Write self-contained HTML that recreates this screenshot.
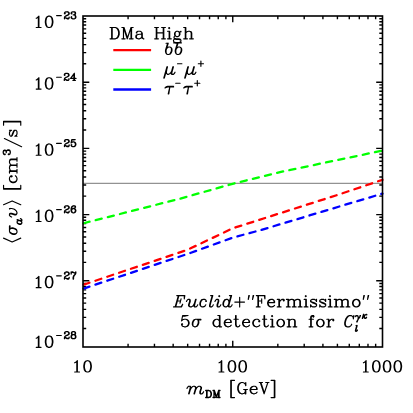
<!DOCTYPE html><html><head><meta charset="utf-8"><title>plot</title><style>html,body{margin:0;padding:0;background:#fff;}svg{display:block;}</style></head><body>
<svg width="413" height="413" viewBox="0 0 413 413">
<rect width="413" height="413" fill="#fff"/>
<line x1="83.0" y1="183.30" x2="382.5" y2="183.30" stroke="#777" stroke-width="1"/>
<path d="M83.0 283.51h3.2M382.5 283.51h-3.2M83.0 286.51h3.2M382.5 286.51h-3.2M83.0 289.85h3.2M382.5 289.85h-3.2M83.0 293.63h3.2M382.5 293.63h-3.2M83.0 297.99h3.2M382.5 297.99h-3.2M83.0 303.13h3.2M382.5 303.13h-3.2M83.0 309.39h3.2M382.5 309.39h-3.2M83.0 317.40h3.2M382.5 317.40h-3.2M83.0 328.55h3.2M382.5 328.55h-3.2M83.0 280.80h6.3M382.5 280.80h-6.3M83.0 217.31h3.2M382.5 217.31h-3.2M83.0 220.31h3.2M382.5 220.31h-3.2M83.0 223.65h3.2M382.5 223.65h-3.2M83.0 227.43h3.2M382.5 227.43h-3.2M83.0 231.79h3.2M382.5 231.79h-3.2M83.0 236.93h3.2M382.5 236.93h-3.2M83.0 243.19h3.2M382.5 243.19h-3.2M83.0 251.20h3.2M382.5 251.20h-3.2M83.0 262.35h3.2M382.5 262.35h-3.2M83.0 214.60h6.3M382.5 214.60h-6.3M83.0 151.11h3.2M382.5 151.11h-3.2M83.0 154.11h3.2M382.5 154.11h-3.2M83.0 157.45h3.2M382.5 157.45h-3.2M83.0 161.23h3.2M382.5 161.23h-3.2M83.0 165.59h3.2M382.5 165.59h-3.2M83.0 170.73h3.2M382.5 170.73h-3.2M83.0 176.99h3.2M382.5 176.99h-3.2M83.0 185.00h3.2M382.5 185.00h-3.2M83.0 196.15h3.2M382.5 196.15h-3.2M83.0 148.40h6.3M382.5 148.40h-6.3M83.0 84.91h3.2M382.5 84.91h-3.2M83.0 87.91h3.2M382.5 87.91h-3.2M83.0 91.25h3.2M382.5 91.25h-3.2M83.0 95.03h3.2M382.5 95.03h-3.2M83.0 99.39h3.2M382.5 99.39h-3.2M83.0 104.53h3.2M382.5 104.53h-3.2M83.0 110.79h3.2M382.5 110.79h-3.2M83.0 118.80h3.2M382.5 118.80h-3.2M83.0 129.95h3.2M382.5 129.95h-3.2M83.0 82.20h6.3M382.5 82.20h-6.3M83.0 18.71h3.2M382.5 18.71h-3.2M83.0 21.71h3.2M382.5 21.71h-3.2M83.0 25.05h3.2M382.5 25.05h-3.2M83.0 28.83h3.2M382.5 28.83h-3.2M83.0 33.19h3.2M382.5 33.19h-3.2M83.0 38.33h3.2M382.5 38.33h-3.2M83.0 44.59h3.2M382.5 44.59h-3.2M83.0 52.60h3.2M382.5 52.60h-3.2M83.0 63.75h3.2M382.5 63.75h-3.2M128.08 347.0v-3.2M128.08 16.0v3.2M154.45 347.0v-3.2M154.45 16.0v3.2M173.16 347.0v-3.2M173.16 16.0v3.2M187.67 347.0v-3.2M187.67 16.0v3.2M199.53 347.0v-3.2M199.53 16.0v3.2M209.55 347.0v-3.2M209.55 16.0v3.2M218.24 347.0v-3.2M218.24 16.0v3.2M225.90 347.0v-3.2M225.90 16.0v3.2M232.75 347.0v-6.3M232.75 16.0v6.3M277.83 347.0v-3.2M277.83 16.0v3.2M304.20 347.0v-3.2M304.20 16.0v3.2M322.91 347.0v-3.2M322.91 16.0v3.2M337.42 347.0v-3.2M337.42 16.0v3.2M349.28 347.0v-3.2M349.28 16.0v3.2M359.30 347.0v-3.2M359.30 16.0v3.2M367.99 347.0v-3.2M367.99 16.0v3.2M375.65 347.0v-3.2M375.65 16.0v3.2" stroke="#000" stroke-width="1.4" fill="none"/>
<path d="M83.00 223.40 L180.00 198.70 L234.50 183.30 L280.00 172.10 L382.50 150.60" stroke="#00ff00" stroke-width="2.3" fill="none" stroke-dasharray="6.2 6.3" stroke-dashoffset="-0.6" stroke-linejoin="round" stroke-linecap="round"/>
<path d="M83.00 284.90 L187.70 249.70 L232.75 228.30 L337.40 195.00 L382.50 179.80" stroke="#ff0000" stroke-width="2.3" fill="none" stroke-dasharray="6.2 6.3" stroke-dashoffset="-0.6" stroke-linejoin="round" stroke-linecap="round"/>
<path d="M83.00 288.80 L187.70 253.90 L232.75 237.60 L260.00 230.30 L355.00 201.80 L382.50 193.60" stroke="#0000ff" stroke-width="2.3" fill="none" stroke-dasharray="6.2 6.3" stroke-dashoffset="-0.6" stroke-linejoin="round" stroke-linecap="round"/>
<rect x="83.0" y="16.0" width="299.5" height="331.0" fill="none" stroke="#000" stroke-width="1.6"/>
<line x1="113.3" y1="50.2" x2="151.1" y2="50.2" stroke="#ff0000" stroke-width="2.3"/>
<line x1="113.3" y1="69.9" x2="151.1" y2="69.9" stroke="#00ff00" stroke-width="2.3"/>
<line x1="113.3" y1="89.5" x2="151.1" y2="89.5" stroke="#0000ff" stroke-width="2.3"/>
<path d="M36.22 18.31L37.29 17.77L38.91 16.16L38.91 27.45M38.37 16.70L38.37 27.45M36.22 27.45L41.06 27.45M48.58 16.16L46.97 16.70L45.89 18.31L45.36 21.00L45.36 22.61L45.89 25.30L46.97 26.91L48.58 27.45L49.66 27.45L51.27 26.91L52.34 25.30L52.88 22.61L52.88 21.00L52.34 18.31L51.27 16.70L49.66 16.16L48.58 16.16M48.58 16.16L47.51 16.70L46.97 17.24L46.43 18.31L45.89 21.00L45.89 22.61L46.43 25.30L46.97 26.38L47.51 26.91L48.58 27.45M49.66 27.45L50.73 26.91L51.27 26.38L51.81 25.30L52.34 22.61L52.34 21.00L51.81 18.31L51.27 17.24L50.73 16.70L49.66 16.16M56.6 15.60H61.3M36.22 79.91L37.29 79.38L38.91 77.76L38.91 89.05M38.37 78.30L38.37 89.05M36.22 89.05L41.06 89.05M48.58 77.76L46.97 78.30L45.89 79.91L45.36 82.60L45.36 84.21L45.89 86.90L46.97 88.51L48.58 89.05L49.66 89.05L51.27 88.51L52.34 86.90L52.88 84.21L52.88 82.60L52.34 79.91L51.27 78.30L49.66 77.76L48.58 77.76M48.58 77.76L47.51 78.30L46.97 78.84L46.43 79.91L45.89 82.60L45.89 84.21L46.43 86.90L46.97 87.97L47.51 88.51L48.58 89.05M49.66 89.05L50.73 88.51L51.27 87.97L51.81 86.90L52.34 84.21L52.34 82.60L51.81 79.91L51.27 78.84L50.73 78.30L49.66 77.76M56.6 77.20H61.3M36.22 146.11L37.29 145.57L38.91 143.96L38.91 155.25M38.37 144.50L38.37 155.25M36.22 155.25L41.06 155.25M48.58 143.96L46.97 144.50L45.89 146.11L45.36 148.80L45.36 150.41L45.89 153.10L46.97 154.71L48.58 155.25L49.66 155.25L51.27 154.71L52.34 153.10L52.88 150.41L52.88 148.80L52.34 146.11L51.27 144.50L49.66 143.96L48.58 143.96M48.58 143.96L47.51 144.50L46.97 145.04L46.43 146.11L45.89 148.80L45.89 150.41L46.43 153.10L46.97 154.18L47.51 154.71L48.58 155.25M49.66 155.25L50.73 154.71L51.27 154.18L51.81 153.10L52.34 150.41L52.34 148.80L51.81 146.11L51.27 145.04L50.73 144.50L49.66 143.96M56.6 143.40H61.3M36.22 212.31L37.29 211.77L38.91 210.16L38.91 221.45M38.37 210.70L38.37 221.45M36.22 221.45L41.06 221.45M48.58 210.16L46.97 210.70L45.89 212.31L45.36 215.00L45.36 216.61L45.89 219.30L46.97 220.91L48.58 221.45L49.66 221.45L51.27 220.91L52.34 219.30L52.88 216.61L52.88 215.00L52.34 212.31L51.27 210.70L49.66 210.16L48.58 210.16M48.58 210.16L47.51 210.70L46.97 211.24L46.43 212.31L45.89 215.00L45.89 216.61L46.43 219.30L46.97 220.38L47.51 220.91L48.58 221.45M49.66 221.45L50.73 220.91L51.27 220.38L51.81 219.30L52.34 216.61L52.34 215.00L51.81 212.31L51.27 211.24L50.73 210.70L49.66 210.16M56.6 209.60H61.3M36.22 278.51L37.29 277.97L38.91 276.36L38.91 287.65M38.37 276.90L38.37 287.65M36.22 287.65L41.06 287.65M48.58 276.36L46.97 276.90L45.89 278.51L45.36 281.20L45.36 282.81L45.89 285.50L46.97 287.11L48.58 287.65L49.66 287.65L51.27 287.11L52.34 285.50L52.88 282.81L52.88 281.20L52.34 278.51L51.27 276.90L49.66 276.36L48.58 276.36M48.58 276.36L47.51 276.90L46.97 277.44L46.43 278.51L45.89 281.20L45.89 282.81L46.43 285.50L46.97 286.57L47.51 287.11L48.58 287.65M49.66 287.65L50.73 287.11L51.27 286.57L51.81 285.50L52.34 282.81L52.34 281.20L51.81 278.51L51.27 277.44L50.73 276.90L49.66 276.36M56.6 275.80H61.3M36.22 338.21L37.29 337.67L38.91 336.06L38.91 347.35M38.37 336.60L38.37 347.35M36.22 347.35L41.06 347.35M48.58 336.06L46.97 336.60L45.89 338.21L45.36 340.90L45.36 342.51L45.89 345.20L46.97 346.81L48.58 347.35L49.66 347.35L51.27 346.81L52.34 345.20L52.88 342.51L52.88 340.90L52.34 338.21L51.27 336.60L49.66 336.06L48.58 336.06M48.58 336.06L47.51 336.60L46.97 337.14L46.43 338.21L45.89 340.90L45.89 342.51L46.43 345.20L46.97 346.27L47.51 346.81L48.58 347.35M49.66 347.35L50.73 346.81L51.27 346.27L51.81 345.20L52.34 342.51L52.34 340.90L51.81 338.21L51.27 337.14L50.73 336.60L49.66 336.06M56.6 335.50H61.3M74.67 362.86L75.74 362.32L77.36 360.71L77.36 372.00M76.82 361.25L76.82 372.00M74.67 372.00L79.51 372.00M87.03 360.71L85.42 361.25L84.34 362.86L83.81 365.55L83.81 367.16L84.34 369.85L85.42 371.46L87.03 372.00L88.11 372.00L89.72 371.46L90.79 369.85L91.33 367.16L91.33 365.55L90.79 362.86L89.72 361.25L88.11 360.71L87.03 360.71M87.03 360.71L85.96 361.25L85.42 361.79L84.88 362.86L84.34 365.55L84.34 367.16L84.88 369.85L85.42 370.93L85.96 371.46L87.03 372.00M88.11 372.00L89.18 371.46L89.72 370.93L90.26 369.85L90.79 367.16L90.79 365.55L90.26 362.86L89.72 361.79L89.18 361.25L88.11 360.71M219.04 362.86L220.12 362.32L221.73 360.71L221.73 372.00M221.19 361.25L221.19 372.00M219.04 372.00L223.88 372.00M231.41 360.71L229.79 361.25L228.72 362.86L228.18 365.55L228.18 367.16L228.72 369.85L229.79 371.46L231.41 372.00L232.48 372.00L234.09 371.46L235.17 369.85L235.71 367.16L235.71 365.55L235.17 362.86L234.09 361.25L232.48 360.71L231.41 360.71M231.41 360.71L230.33 361.25L229.79 361.79L229.26 362.86L228.72 365.55L228.72 367.16L229.26 369.85L229.79 370.93L230.33 371.46L231.41 372.00M232.48 372.00L233.56 371.46L234.09 370.93L234.63 369.85L235.17 367.16L235.17 365.55L234.63 362.86L234.09 361.79L233.56 361.25L232.48 360.71M242.16 360.71L240.54 361.25L239.47 362.86L238.93 365.55L238.93 367.16L239.47 369.85L240.54 371.46L242.16 372.00L243.23 372.00L244.84 371.46L245.92 369.85L246.46 367.16L246.46 365.55L245.92 362.86L244.84 361.25L243.23 360.71L242.16 360.71M242.16 360.71L241.08 361.25L240.54 361.79L240.01 362.86L239.47 365.55L239.47 367.16L240.01 369.85L240.54 370.93L241.08 371.46L242.16 372.00M243.23 372.00L244.31 371.46L244.84 370.93L245.38 369.85L245.92 367.16L245.92 365.55L245.38 362.86L244.84 361.79L244.31 361.25L243.23 360.71M363.42 362.86L364.49 362.32L366.11 360.71L366.11 372.00M365.57 361.25L365.57 372.00M363.42 372.00L368.26 372.00M375.78 360.71L374.17 361.25L373.09 362.86L372.56 365.55L372.56 367.16L373.09 369.85L374.17 371.46L375.78 372.00L376.86 372.00L378.47 371.46L379.54 369.85L380.08 367.16L380.08 365.55L379.54 362.86L378.47 361.25L376.86 360.71L375.78 360.71M375.78 360.71L374.71 361.25L374.17 361.79L373.63 362.86L373.09 365.55L373.09 367.16L373.63 369.85L374.17 370.93L374.71 371.46L375.78 372.00M376.86 372.00L377.93 371.46L378.47 370.93L379.01 369.85L379.54 367.16L379.54 365.55L379.01 362.86L378.47 361.79L377.93 361.25L376.86 360.71M386.53 360.71L384.92 361.25L383.84 362.86L383.31 365.55L383.31 367.16L383.84 369.85L384.92 371.46L386.53 372.00L387.61 372.00L389.22 371.46L390.29 369.85L390.83 367.16L390.83 365.55L390.29 362.86L389.22 361.25L387.61 360.71L386.53 360.71M386.53 360.71L385.46 361.25L384.92 361.79L384.38 362.86L383.84 365.55L383.84 367.16L384.38 369.85L384.92 370.93L385.46 371.46L386.53 372.00M387.61 372.00L388.68 371.46L389.22 370.93L389.76 369.85L390.29 367.16L390.29 365.55L389.76 362.86L389.22 361.79L388.68 361.25L387.61 360.71M397.28 360.71L395.67 361.25L394.59 362.86L394.06 365.55L394.06 367.16L394.59 369.85L395.67 371.46L397.28 372.00L398.36 372.00L399.97 371.46L401.04 369.85L401.58 367.16L401.58 365.55L401.04 362.86L399.97 361.25L398.36 360.71L397.28 360.71M397.28 360.71L396.21 361.25L395.67 361.79L395.13 362.86L394.59 365.55L394.59 367.16L395.13 369.85L395.67 370.93L396.21 371.46L397.28 372.00M398.36 372.00L399.43 371.46L399.97 370.93L400.51 369.85L401.04 367.16L401.04 365.55L400.51 362.86L399.97 361.79L399.43 361.25L398.36 360.71M111.66 27.51L111.66 38.80M112.19 27.51L112.19 38.80M110.04 27.51L115.42 27.51L117.03 28.05L118.11 29.12L118.64 30.20L119.18 31.81L119.18 34.50L118.64 36.11L118.11 37.19L117.03 38.26L115.42 38.80L110.04 38.80M115.42 27.51L116.49 28.05L117.57 29.12L118.11 30.20L118.64 31.81L118.64 34.50L118.11 36.11L117.57 37.19L116.49 38.26L115.42 38.80M123.48 27.51L123.48 38.80M124.02 27.51L127.24 37.19M123.48 27.51L127.24 38.80M131.01 27.51L127.24 38.80M131.01 27.51L131.01 38.80M131.54 27.51L131.54 38.80M121.87 27.51L124.02 27.51M131.01 27.51L133.16 27.51M121.87 38.80L125.09 38.80M129.39 38.80L133.16 38.80M136.92 32.35L136.92 32.89L136.38 32.89L136.38 32.35L136.92 31.81L137.99 31.27L140.14 31.27L141.22 31.81L141.76 32.35L142.29 33.42L142.29 37.19L142.83 38.26L143.37 38.80M141.76 32.35L141.76 37.19L142.29 38.26L143.37 38.80L143.91 38.80M141.76 33.42L141.22 33.96L137.99 34.50L136.38 35.04L135.84 36.11L135.84 37.19L136.38 38.26L137.99 38.80L139.61 38.80L140.68 38.26L141.76 37.19M137.99 34.50L136.92 35.04L136.38 36.11L136.38 37.19L136.92 38.26L137.99 38.80M156.27 27.51L156.27 38.80M156.81 27.51L156.81 38.80M163.26 27.51L163.26 38.80M163.79 27.51L163.79 38.80M154.66 27.51L158.42 27.51M161.64 27.51L165.41 27.51M156.81 32.89L163.26 32.89M154.66 38.80L158.42 38.80M161.64 38.80L165.41 38.80M169.17 27.51L168.63 28.05L169.17 28.59L169.71 28.05L169.17 27.51M169.17 31.27L169.17 38.80M169.71 31.27L169.71 38.80M167.56 31.27L169.71 31.27M167.56 38.80L171.32 38.80M176.69 31.27L175.62 31.81L175.08 32.35L174.54 33.42L174.54 34.50L175.08 35.57L175.62 36.11L176.69 36.65L177.77 36.65L178.84 36.11L179.38 35.57L179.92 34.50L179.92 33.42L179.38 32.35L178.84 31.81L177.77 31.27L176.69 31.27M175.62 31.81L175.08 32.89L175.08 35.04L175.62 36.11M178.84 36.11L179.38 35.04L179.38 32.89L178.84 31.81M179.38 32.35L179.92 31.81L180.99 31.27L180.99 31.81L179.92 31.81M175.08 35.57L174.54 36.11L174.01 37.19L174.01 37.72L174.54 38.80L176.16 39.34L178.84 39.34L180.46 39.88L180.99 40.41M174.01 37.72L174.54 38.26L176.16 38.80L178.84 38.80L180.46 39.34L180.99 40.41L180.99 40.95L180.46 42.02L178.84 42.56L175.62 42.56L174.01 42.02L173.47 40.95L173.47 40.41L174.01 39.34L175.62 38.80M185.29 27.51L185.29 38.80M185.83 27.51L185.83 38.80M185.83 32.89L186.91 31.81L188.52 31.27L189.59 31.27L191.21 31.81L191.74 32.89L191.74 38.80M189.59 31.27L190.67 31.81L191.21 32.89L191.21 38.80M183.68 27.51L185.83 27.51M183.68 38.80L187.44 38.80M189.59 38.80L193.36 38.80M167.68 43.21L165.53 50.20L165.53 51.81L166.06 53.42L166.60 53.96M168.21 43.21L166.06 50.20M166.06 50.20L166.60 48.59L167.68 47.51L168.75 46.98L169.82 46.98L170.90 47.51L171.44 48.05L171.97 49.12L171.97 50.74L171.44 52.35L170.36 53.96L168.75 54.50L167.68 54.50L166.60 53.96L166.06 52.35L166.06 50.20M170.90 47.51L171.44 48.59L171.44 50.74L170.90 52.35L169.82 53.96L168.75 54.50M166.06 43.21L168.21 43.21M177.43 43.21L175.28 50.20L175.28 51.81L175.81 53.42L176.35 53.96M177.96 43.21L175.81 50.20M175.81 50.20L176.35 48.59L177.43 47.51L178.50 46.98L179.57 46.98L180.65 47.51L181.19 48.05L181.72 49.12L181.72 50.74L181.19 52.35L180.11 53.96L178.50 54.50L177.43 54.50L176.35 53.96L175.81 52.35L175.81 50.20M180.65 47.51L181.19 48.59L181.19 50.74L180.65 52.35L179.57 53.96L178.50 54.50M175.81 43.21L177.96 43.21M173.6 42.8H181.5M166.98 66.77L163.76 78.06M167.52 66.77L164.29 78.06M166.98 68.39L166.44 71.61L166.44 73.22L167.52 74.30L168.59 74.30L169.67 73.76L170.74 72.69L171.82 71.08M172.89 66.77L171.28 72.69L171.28 73.76L171.82 74.30L173.43 74.30L174.51 73.22L175.04 72.15M173.43 66.77L171.82 72.69L171.82 73.76L172.36 74.30M187.88 66.77L184.66 78.06M188.42 66.77L185.19 78.06M187.88 68.39L187.34 71.61L187.34 73.22L188.42 74.30L189.49 74.30L190.57 73.76L191.64 72.69L192.72 71.08M193.79 66.77L192.18 72.69L192.18 73.76L192.72 74.30L194.33 74.30L195.41 73.22L195.94 72.15M194.33 66.77L192.72 72.69L192.72 73.76L193.26 74.30M177.5 63.7H181.9M198.3 63.7H203.5M200.9 61.1V66.3M169.84 86.91L168.23 93.90M169.84 86.91L168.76 93.90M165.00 87.99L166.08 86.91L167.69 86.38L173.60 86.38M165.00 87.99L166.08 87.45L167.69 86.91L173.60 86.91M188.54 86.91L186.93 93.90M188.54 86.91L187.46 93.90M183.70 87.99L184.78 86.91L186.39 86.38L192.30 86.38M183.70 87.99L184.78 87.45L186.39 86.91L192.30 86.91M175.7 83.2H180.1M194.7 83.2H199.9M197.3 80.6V85.8M178.38 295.61L175.16 306.90M178.92 295.61L175.69 306.90M181.07 298.84L179.99 303.14M176.77 295.61L184.83 295.61L184.29 298.84L184.29 295.61M177.31 300.99L180.53 300.99M173.54 306.90L181.61 306.90L182.68 304.21L181.07 306.90M186.44 301.52L186.98 300.45L188.06 299.38L189.67 299.38L190.21 299.91L190.21 301.52L189.13 304.75L189.13 305.82L190.21 306.90M189.13 299.38L189.67 299.91L189.67 301.52L188.59 304.75L188.59 305.82L189.13 306.36L190.21 306.90L191.28 306.90L192.36 306.36L193.43 305.29L194.51 303.14M195.58 299.38L194.51 303.14L193.97 305.29L193.97 306.36L194.51 306.90L196.12 306.90L197.19 305.82L197.73 304.75M196.12 299.38L195.04 303.14L194.51 305.29L194.51 306.36L195.04 306.90M205.79 300.99L205.79 301.52L206.33 301.52L206.33 300.99L205.79 299.91L204.72 299.38L203.11 299.38L201.49 299.91L200.42 301.52L199.88 303.14L199.88 304.75L200.42 305.82L200.96 306.36L202.03 306.90L203.11 306.90L204.72 306.36L205.79 304.75M203.11 299.38L202.03 299.91L200.96 301.52L200.42 303.14L200.42 305.29L200.96 306.36M212.24 295.61L210.09 303.14L209.56 305.29L209.56 306.36L210.09 306.90L211.71 306.90L212.78 305.82L213.32 304.75M212.78 295.61L210.63 303.14L210.09 305.29L210.09 306.36L210.63 306.90M210.63 295.61L212.78 295.61M219.23 295.61L218.69 296.15L219.23 296.69L219.77 296.15L219.23 295.61M214.93 301.52L215.47 300.45L216.54 299.38L218.16 299.38L218.69 299.91L218.69 301.52L217.62 304.75L217.62 306.36L218.16 306.90M217.62 299.38L218.16 299.91L218.16 301.52L217.08 304.75L217.08 306.36L217.62 306.90L219.23 306.90L220.31 305.82L220.84 304.75M231.06 295.61L228.91 303.14L228.37 305.29L228.37 306.36L228.91 306.90L230.52 306.90L231.59 305.82L232.13 304.75M231.59 295.61L229.44 303.14L228.91 305.29L228.91 306.36L229.44 306.90M228.91 303.14L228.91 301.52L228.37 299.91L227.29 299.38L226.22 299.38L224.61 299.91L223.53 301.52L222.99 303.14L222.99 304.75L223.53 305.82L224.07 306.36L225.14 306.90L226.22 306.90L227.29 306.36L228.37 304.75L228.91 303.14M226.22 299.38L225.14 299.91L224.07 301.52L223.53 303.14L223.53 305.29L224.07 306.36M229.44 295.61L231.59 295.61M239.66 297.22L239.66 306.90M234.82 302.06L244.49 302.06M248.79 295.61L248.26 299.38M249.33 295.61L248.26 299.38M253.09 295.61L252.56 299.38M253.63 295.61L252.56 299.38M257.93 295.61L257.93 306.90M258.47 295.61L258.47 306.90M261.69 298.84L261.69 303.14M256.32 295.61L264.92 295.61L264.92 298.84L264.38 295.61M258.47 300.99L261.69 300.99M256.32 306.90L260.08 306.90M268.14 302.60L274.59 302.60L274.59 301.52L274.06 300.45L273.52 299.91L272.44 299.38L270.83 299.38L269.22 299.91L268.14 300.99L267.61 302.60L267.61 303.67L268.14 305.29L269.22 306.36L270.83 306.90L271.91 306.90L273.52 306.36L274.59 305.29M274.06 302.60L274.06 300.99L273.52 299.91M270.83 299.38L269.76 299.91L268.68 300.99L268.14 302.60L268.14 303.67L268.68 305.29L269.76 306.36L270.83 306.90M278.89 299.38L278.89 306.90M279.43 299.38L279.43 306.90M279.43 302.60L279.97 300.99L281.04 299.91L282.12 299.38L283.73 299.38L284.27 299.91L284.27 300.45L283.73 300.99L283.19 300.45L283.73 299.91M277.28 299.38L279.43 299.38M277.28 306.90L281.04 306.90M288.03 299.38L288.03 306.90M288.57 299.38L288.57 306.90M288.57 300.99L289.64 299.91L291.26 299.38L292.33 299.38L293.94 299.91L294.48 300.99L294.48 306.90M292.33 299.38L293.41 299.91L293.94 300.99L293.94 306.90M294.48 300.99L295.56 299.91L297.17 299.38L298.24 299.38L299.86 299.91L300.39 300.99L300.39 306.90M298.24 299.38L299.32 299.91L299.86 300.99L299.86 306.90M286.42 299.38L288.57 299.38M286.42 306.90L290.18 306.90M292.33 306.90L296.09 306.90M298.24 306.90L302.01 306.90M305.77 295.61L305.23 296.15L305.77 296.69L306.31 296.15L305.77 295.61M305.77 299.38L305.77 306.90M306.31 299.38L306.31 306.90M304.16 299.38L306.31 299.38M304.16 306.90L307.92 306.90M315.98 300.45L316.52 299.38L316.52 301.52L315.98 300.45L315.44 299.91L314.37 299.38L312.22 299.38L311.14 299.91L310.61 300.45L310.61 301.52L311.14 302.06L312.22 302.60L314.91 303.67L315.98 304.21L316.52 304.75M310.61 300.99L311.14 301.52L312.22 302.06L314.91 303.14L315.98 303.67L316.52 304.21L316.52 305.82L315.98 306.36L314.91 306.90L312.76 306.90L311.68 306.36L311.14 305.82L310.61 304.75L310.61 306.90L311.14 305.82M325.12 300.45L325.66 299.38L325.66 301.52L325.12 300.45L324.58 299.91L323.51 299.38L321.36 299.38L320.28 299.91L319.74 300.45L319.74 301.52L320.28 302.06L321.36 302.60L324.04 303.67L325.12 304.21L325.66 304.75M319.74 300.99L320.28 301.52L321.36 302.06L324.04 303.14L325.12 303.67L325.66 304.21L325.66 305.82L325.12 306.36L324.04 306.90L321.89 306.90L320.82 306.36L320.28 305.82L319.74 304.75L319.74 306.90L320.28 305.82M329.96 295.61L329.42 296.15L329.96 296.69L330.49 296.15L329.96 295.61M329.96 299.38L329.96 306.90M330.49 299.38L330.49 306.90M328.34 299.38L330.49 299.38M328.34 306.90L332.11 306.90M335.87 299.38L335.87 306.90M336.41 299.38L336.41 306.90M336.41 300.99L337.48 299.91L339.09 299.38L340.17 299.38L341.78 299.91L342.32 300.99L342.32 306.90M340.17 299.38L341.24 299.91L341.78 300.99L341.78 306.90M342.32 300.99L343.39 299.91L345.01 299.38L346.08 299.38L347.69 299.91L348.23 300.99L348.23 306.90M346.08 299.38L347.16 299.91L347.69 300.99L347.69 306.90M334.26 299.38L336.41 299.38M334.26 306.90L338.02 306.90M340.17 306.90L343.93 306.90M346.08 306.90L349.84 306.90M355.76 299.38L354.14 299.91L353.07 300.99L352.53 302.60L352.53 303.67L353.07 305.29L354.14 306.36L355.76 306.90L356.83 306.90L358.44 306.36L359.52 305.29L360.06 303.67L360.06 302.60L359.52 300.99L358.44 299.91L356.83 299.38L355.76 299.38M355.76 299.38L354.68 299.91L353.61 300.99L353.07 302.60L353.07 303.67L353.61 305.29L354.68 306.36L355.76 306.90M356.83 306.90L357.91 306.36L358.98 305.29L359.52 303.67L359.52 302.60L358.98 300.99L357.91 299.91L356.83 299.38M363.82 295.61L363.28 299.38M364.36 295.61L363.28 299.38M368.12 295.61L367.58 299.38M368.66 295.61L367.58 299.38M182.65 315.51L181.58 320.89M181.58 320.89L182.65 319.81L184.26 319.28L185.88 319.28L187.49 319.81L188.56 320.89L189.10 322.50L189.10 323.57L188.56 325.19L187.49 326.26L185.88 326.80L184.26 326.80L182.65 326.26L182.11 325.73L181.58 324.65L181.58 324.11L182.11 323.57L182.65 324.11L182.11 324.65M185.88 319.28L186.95 319.81L188.03 320.89L188.56 322.50L188.56 323.57L188.03 325.19L186.95 326.26L185.88 326.80M182.65 315.51L188.03 315.51M182.65 316.05L185.34 316.05L188.03 315.51M200.93 319.28L195.55 319.28L193.94 319.81L192.86 321.43L192.33 323.04L192.33 324.65L192.86 325.73L193.40 326.26L194.47 326.80L195.55 326.80L197.16 326.26L198.24 324.65L198.78 323.04L198.78 321.43L198.24 320.35L197.70 319.81L196.62 319.28M195.55 319.28L194.47 319.81L193.40 321.43L192.86 323.04L192.86 325.19L193.40 326.26M195.55 326.80L196.62 326.26L197.70 324.65L198.24 323.04L198.24 320.89L197.70 319.81M197.70 319.81L200.93 319.81M219.43 315.51L219.43 326.80M219.96 315.51L219.96 326.80M219.43 320.89L218.35 319.81L217.28 319.28L216.20 319.28L214.59 319.81L213.51 320.89L212.98 322.50L212.98 323.57L213.51 325.19L214.59 326.26L216.20 326.80L217.28 326.80L218.35 326.26L219.43 325.19M216.20 319.28L215.12 319.81L214.05 320.89L213.51 322.50L213.51 323.57L214.05 325.19L215.12 326.26L216.20 326.80M217.81 315.51L219.96 315.51M219.43 326.80L221.58 326.80M224.80 322.50L231.25 322.50L231.25 321.43L230.71 320.35L230.18 319.81L229.10 319.28L227.49 319.28L225.88 319.81L224.80 320.89L224.26 322.50L224.26 323.57L224.80 325.19L225.88 326.26L227.49 326.80L228.56 326.80L230.18 326.26L231.25 325.19M230.71 322.50L230.71 320.89L230.18 319.81M227.49 319.28L226.41 319.81L225.34 320.89L224.80 322.50L224.80 323.57L225.34 325.19L226.41 326.26L227.49 326.80M235.55 315.51L235.55 324.65L236.09 326.26L237.16 326.80L238.24 326.80L239.31 326.26L239.85 325.19M236.09 315.51L236.09 324.65L236.62 326.26L237.16 326.80M233.94 319.28L238.24 319.28M243.08 322.50L249.53 322.50L249.53 321.43L248.99 320.35L248.45 319.81L247.38 319.28L245.76 319.28L244.15 319.81L243.08 320.89L242.54 322.50L242.54 323.57L243.08 325.19L244.15 326.26L245.76 326.80L246.84 326.80L248.45 326.26L249.53 325.19M248.99 322.50L248.99 320.89L248.45 319.81M245.76 319.28L244.69 319.81L243.61 320.89L243.08 322.50L243.08 323.57L243.61 325.19L244.69 326.26L245.76 326.80M259.20 320.89L258.66 321.43L259.20 321.96L259.74 321.43L259.74 320.89L258.66 319.81L257.59 319.28L255.98 319.28L254.36 319.81L253.29 320.89L252.75 322.50L252.75 323.57L253.29 325.19L254.36 326.26L255.98 326.80L257.05 326.80L258.66 326.26L259.74 325.19M255.98 319.28L254.90 319.81L253.83 320.89L253.29 322.50L253.29 323.57L253.83 325.19L254.90 326.26L255.98 326.80M264.04 315.51L264.04 324.65L264.57 326.26L265.65 326.80L266.73 326.80L267.80 326.26L268.34 325.19M264.57 315.51L264.57 324.65L265.11 326.26L265.65 326.80M262.43 319.28L266.73 319.28M272.10 315.51L271.56 316.05L272.10 316.59L272.64 316.05L272.10 315.51M272.10 319.28L272.10 326.80M272.64 319.28L272.64 326.80M270.49 319.28L272.64 319.28M270.49 326.80L274.25 326.80M280.16 319.28L278.55 319.81L277.48 320.89L276.94 322.50L276.94 323.57L277.48 325.19L278.55 326.26L280.16 326.80L281.24 326.80L282.85 326.26L283.93 325.19L284.46 323.57L284.46 322.50L283.93 320.89L282.85 319.81L281.24 319.28L280.16 319.28M280.16 319.28L279.09 319.81L278.01 320.89L277.48 322.50L277.48 323.57L278.01 325.19L279.09 326.26L280.16 326.80M281.24 326.80L282.31 326.26L283.39 325.19L283.93 323.57L283.93 322.50L283.39 320.89L282.31 319.81L281.24 319.28M288.76 319.28L288.76 326.80M289.30 319.28L289.30 326.80M289.30 320.89L290.38 319.81L291.99 319.28L293.06 319.28L294.68 319.81L295.21 320.89L295.21 326.80M293.06 319.28L294.14 319.81L294.68 320.89L294.68 326.80M287.15 319.28L289.30 319.28M287.15 326.80L290.91 326.80M293.06 326.80L296.82 326.80M313.39 316.05L312.85 316.59L313.39 317.12L313.93 316.59L313.93 316.05L313.39 315.51L312.31 315.51L311.24 316.05L310.70 317.12L310.70 326.80M312.31 315.51L311.77 316.05L311.24 317.12L311.24 326.80M309.09 319.28L313.39 319.28M309.09 326.80L312.85 326.80M319.84 319.28L318.22 319.81L317.15 320.89L316.61 322.50L316.61 323.57L317.15 325.19L318.22 326.26L319.84 326.80L320.91 326.80L322.52 326.26L323.60 325.19L324.14 323.57L324.14 322.50L323.60 320.89L322.52 319.81L320.91 319.28L319.84 319.28M319.84 319.28L318.76 319.81L317.69 320.89L317.15 322.50L317.15 323.57L317.69 325.19L318.76 326.26L319.84 326.80M320.91 326.80L321.99 326.26L323.06 325.19L323.60 323.57L323.60 322.50L323.06 320.89L321.99 319.81L320.91 319.28M328.44 319.28L328.44 326.80M328.97 319.28L328.97 326.80M328.97 322.50L329.51 320.89L330.59 319.81L331.66 319.28L333.27 319.28L333.81 319.81L333.81 320.35L333.27 320.89L332.74 320.35L333.27 319.81M326.82 319.28L328.97 319.28M326.82 326.80L330.59 326.80M352.79 316.69L353.33 316.69L353.87 315.61L353.33 318.84L353.33 317.76L352.79 316.69L352.26 316.15L351.18 315.61L349.57 315.61L347.96 316.15L346.88 317.22L345.81 318.84L345.27 320.45L344.73 322.60L344.73 324.21L345.27 325.82L345.81 326.36L347.42 326.90L349.03 326.90L350.11 326.36L351.18 325.29L351.72 324.21M349.57 315.61L348.49 316.15L347.42 317.22L346.34 318.84L345.81 320.45L345.27 322.60L345.27 324.21L345.81 325.82L346.34 326.36L347.42 326.90M186.97 388.43L187.51 387.35L188.58 386.28L190.19 386.28L190.73 386.81L190.73 387.89L190.19 390.04L189.12 393.80M189.66 386.28L190.19 386.81L190.19 387.89L189.66 390.04L188.58 393.80M190.19 390.04L191.27 387.89L192.34 386.81L193.42 386.28L194.49 386.28L195.57 386.81L196.11 387.35L196.11 388.43L194.49 393.80M194.49 386.28L195.57 387.35L195.57 388.43L193.96 393.80M195.57 390.04L196.64 387.89L197.72 386.81L198.79 386.28L199.87 386.28L200.94 386.81L201.48 387.35L201.48 388.43L200.41 391.65L200.41 393.26L200.94 393.80M199.87 386.28L200.94 387.35L200.94 388.43L199.87 391.65L199.87 393.26L200.41 393.80L202.02 393.80L203.09 392.73L203.63 391.65M230.76 380.36L230.76 397.56M231.30 380.36L231.30 397.56M230.76 380.36L234.53 380.36M230.76 397.56L234.53 397.56M245.28 384.12L245.81 385.74L245.81 382.51L245.28 384.12L244.20 383.05L242.59 382.51L241.51 382.51L239.90 383.05L238.83 384.12L238.29 385.20L237.75 386.81L237.75 389.50L238.29 391.11L238.83 392.19L239.90 393.26L241.51 393.80L242.59 393.80L244.20 393.26L245.28 392.19M241.51 382.51L240.44 383.05L239.36 384.12L238.83 385.20L238.29 386.81L238.29 389.50L238.83 391.11L239.36 392.19L240.44 393.26L241.51 393.80M245.28 389.50L245.28 393.80M245.81 389.50L245.81 393.80M243.66 389.50L247.43 389.50M250.65 389.50L257.10 389.50L257.10 388.43L256.56 387.35L256.03 386.81L254.95 386.28L253.34 386.28L251.73 386.81L250.65 387.89L250.11 389.50L250.11 390.57L250.65 392.19L251.73 393.26L253.34 393.80L254.41 393.80L256.03 393.26L257.10 392.19M256.56 389.50L256.56 387.89L256.03 386.81M253.34 386.28L252.26 386.81L251.19 387.89L250.65 389.50L250.65 390.57L251.19 392.19L252.26 393.26L253.34 393.80M260.32 382.51L264.09 393.80M260.86 382.51L264.09 392.19M267.85 382.51L264.09 393.80M259.25 382.51L262.48 382.51M265.70 382.51L268.93 382.51M274.30 380.36L274.30 397.56M274.84 380.36L274.84 397.56M271.07 380.36L274.84 380.36M271.07 397.56L274.84 397.56M3.56 238.15L12.16 241.91L20.76 238.15M9.48 225.79L9.48 231.16L10.01 232.78L11.62 233.85L13.24 234.39L14.85 234.39L15.93 233.85L16.46 233.31L17.00 232.24L17.00 231.16L16.46 229.55L14.85 228.47L13.24 227.94L11.62 227.94L10.55 228.47L10.01 229.01L9.48 230.09M9.48 231.16L10.01 232.24L11.62 233.31L13.24 233.85L15.39 233.85L16.46 233.31M17.00 231.16L16.46 230.09L14.85 229.01L13.24 228.47L11.09 228.47L10.01 229.01M10.01 229.01L10.01 225.79M11.62 217.06L10.55 216.53L9.48 215.45L9.48 213.84L10.01 213.30L11.62 213.30L14.85 214.38L15.93 214.38L17.00 213.30M9.48 214.38L10.01 213.84L11.62 213.84L14.85 214.91L15.93 214.91L16.46 214.38L17.00 213.30L17.00 212.76L16.46 211.15L15.39 210.07L13.78 209.00L11.62 208.46L9.48 208.46L9.48 209.00L10.55 208.46M3.56 204.70L12.16 200.94L20.76 204.70M3.56 189.08L20.76 189.08M3.56 188.54L20.76 188.54M3.56 189.08L3.56 185.32M20.76 189.08L20.76 185.32M11.09 176.28L11.62 176.82L12.16 176.28L11.62 175.74L11.09 175.74L10.01 176.82L9.48 177.89L9.48 179.51L10.01 181.12L11.09 182.19L12.70 182.73L13.78 182.73L15.39 182.19L16.46 181.12L17.00 179.51L17.00 178.43L16.46 176.82L15.39 175.74M9.48 179.51L10.01 180.58L11.09 181.66L12.70 182.19L13.78 182.19L15.39 181.66L16.46 180.58L17.00 179.51M9.48 171.44L17.00 171.44M9.48 170.91L17.00 170.91M11.09 170.91L10.01 169.83L9.48 168.22L9.48 167.14L10.01 165.53L11.09 164.99L17.00 164.99M9.48 167.14L10.01 166.07L11.09 165.53L17.00 165.53M11.09 164.99L10.01 163.92L9.48 162.31L9.48 161.23L10.01 159.62L11.09 159.08L17.00 159.08M9.48 161.23L10.01 160.16L11.09 159.62L17.00 159.62M9.48 173.06L9.48 170.91M17.00 173.06L17.00 169.29M17.00 167.14L17.00 163.38M17.00 161.23L17.00 157.47M21.6 146.7L4.4 138.5M10.55 130.78L9.48 130.24L11.62 130.24L10.55 130.78L10.01 131.32L9.48 132.39L9.48 134.54L10.01 135.62L10.55 136.16L11.62 136.16L12.16 135.62L12.70 134.54L13.78 131.86L14.31 130.78L14.85 130.24M11.09 136.16L11.62 135.62L12.16 134.54L13.24 131.86L13.78 130.78L14.31 130.24L15.93 130.24L16.46 130.78L17.00 131.86L17.00 134.01L16.46 135.08L15.93 135.62L14.85 136.16L17.00 136.16L15.93 135.62M3.56 121.96L20.76 121.96M3.56 121.42L20.76 121.42M3.56 125.18L3.56 121.42M20.76 125.18L20.76 121.42" stroke="#000" stroke-width="1.15" fill="none" stroke-linecap="round" stroke-linejoin="round"/>
<path d="M64.82 13.13L65.15 13.47L64.82 13.80L64.48 13.47L64.48 13.13L64.82 12.47L65.15 12.14L66.15 11.80L67.48 11.80L68.48 12.14L68.82 12.47L69.15 13.13L69.15 13.80L68.82 14.47L67.82 15.13L66.15 15.80L65.48 16.13L64.82 16.80L64.48 17.80L64.48 18.80M67.48 11.80L68.15 12.14L68.48 12.47L68.82 13.13L68.82 13.80L68.48 14.47L67.48 15.13L66.15 15.80M64.48 18.13L64.82 17.80L65.48 17.80L67.15 18.47L68.15 18.47L68.82 18.13L69.15 17.80M65.48 17.80L67.15 18.80L68.48 18.80L68.82 18.47L69.15 17.80L69.15 17.13M71.48 13.13L71.82 13.47L71.48 13.80L71.15 13.47L71.15 13.13L71.48 12.47L71.82 12.14L72.82 11.80L74.15 11.80L75.15 12.14L75.48 12.80L75.48 13.80L75.15 14.47L74.15 14.80L73.15 14.80M74.15 11.80L74.82 12.14L75.15 12.80L75.15 13.80L74.82 14.47L74.15 14.80M74.15 14.80L74.82 15.13L75.48 15.80L75.82 16.47L75.82 17.47L75.48 18.13L75.15 18.47L74.15 18.80L72.82 18.80L71.82 18.47L71.48 18.13L71.15 17.47L71.15 17.13L71.48 16.80L71.82 17.13L71.48 17.47M75.15 15.47L75.48 16.47L75.48 17.47L75.15 18.13L74.82 18.47L74.15 18.80M64.65 74.73L64.98 75.07L64.65 75.40L64.32 75.07L64.32 74.73L64.65 74.07L64.98 73.73L65.98 73.40L67.32 73.40L68.32 73.73L68.65 74.07L68.98 74.73L68.98 75.40L68.65 76.07L67.65 76.73L65.98 77.40L65.32 77.73L64.65 78.40L64.32 79.40L64.32 80.40M67.32 73.40L67.98 73.73L68.32 74.07L68.65 74.73L68.65 75.40L68.32 76.07L67.32 76.73L65.98 77.40M64.32 79.73L64.65 79.40L65.32 79.40L66.98 80.07L67.98 80.07L68.65 79.73L68.98 79.40M65.32 79.40L66.98 80.40L68.32 80.40L68.65 80.07L68.98 79.40L68.98 78.73M73.98 74.07L73.98 80.40M74.32 73.40L74.32 80.40M74.32 73.40L70.65 78.40L75.98 78.40M72.98 80.40L75.32 80.40M64.82 140.93L65.15 141.27L64.82 141.60L64.48 141.27L64.48 140.93L64.82 140.27L65.15 139.94L66.15 139.60L67.48 139.60L68.48 139.94L68.82 140.27L69.15 140.93L69.15 141.60L68.82 142.27L67.82 142.93L66.15 143.60L65.48 143.93L64.82 144.60L64.48 145.60L64.48 146.60M67.48 139.60L68.15 139.94L68.48 140.27L68.82 140.93L68.82 141.60L68.48 142.27L67.48 142.93L66.15 143.60M64.48 145.93L64.82 145.60L65.48 145.60L67.15 146.27L68.15 146.27L68.82 145.93L69.15 145.60M65.48 145.60L67.15 146.60L68.48 146.60L68.82 146.27L69.15 145.60L69.15 144.93M71.82 139.60L71.15 142.93M71.15 142.93L71.82 142.27L72.82 141.93L73.82 141.93L74.82 142.27L75.48 142.93L75.82 143.93L75.82 144.60L75.48 145.60L74.82 146.27L73.82 146.60L72.82 146.60L71.82 146.27L71.48 145.93L71.15 145.27L71.15 144.93L71.48 144.60L71.82 144.93L71.48 145.27M73.82 141.93L74.48 142.27L75.15 142.93L75.48 143.93L75.48 144.60L75.15 145.60L74.48 146.27L73.82 146.60M71.82 139.60L75.15 139.60M71.82 139.94L73.48 139.94L75.15 139.60M64.82 207.13L65.15 207.47L64.82 207.80L64.48 207.47L64.48 207.13L64.82 206.47L65.15 206.14L66.15 205.80L67.48 205.80L68.48 206.14L68.82 206.47L69.15 207.13L69.15 207.80L68.82 208.47L67.82 209.13L66.15 209.80L65.48 210.13L64.82 210.80L64.48 211.80L64.48 212.80M67.48 205.80L68.15 206.14L68.48 206.47L68.82 207.13L68.82 207.80L68.48 208.47L67.48 209.13L66.15 209.80M64.48 212.13L64.82 211.80L65.48 211.80L67.15 212.47L68.15 212.47L68.82 212.13L69.15 211.80M65.48 211.80L67.15 212.80L68.48 212.80L68.82 212.47L69.15 211.80L69.15 211.13M75.15 206.80L74.82 207.13L75.15 207.47L75.48 207.13L75.48 206.80L75.15 206.14L74.48 205.80L73.48 205.80L72.48 206.14L71.82 206.80L71.48 207.47L71.15 208.80L71.15 210.80L71.48 211.80L72.15 212.47L73.15 212.80L73.82 212.80L74.82 212.47L75.48 211.80L75.82 210.80L75.82 210.47L75.48 209.47L74.82 208.80L73.82 208.47L73.48 208.47L72.48 208.80L71.82 209.47L71.48 210.47M73.48 205.80L72.82 206.14L72.15 206.80L71.82 207.47L71.48 208.80L71.48 210.80L71.82 211.80L72.48 212.47L73.15 212.80M73.82 212.80L74.48 212.47L75.15 211.80L75.48 210.80L75.48 210.47L75.15 209.47L74.48 208.80L73.82 208.47M64.82 273.33L65.15 273.67L64.82 274.00L64.48 273.67L64.48 273.33L64.82 272.67L65.15 272.33L66.15 272.00L67.48 272.00L68.48 272.33L68.82 272.67L69.15 273.33L69.15 274.00L68.82 274.67L67.82 275.33L66.15 276.00L65.48 276.33L64.82 277.00L64.48 278.00L64.48 279.00M67.48 272.00L68.15 272.33L68.48 272.67L68.82 273.33L68.82 274.00L68.48 274.67L67.48 275.33L66.15 276.00M64.48 278.33L64.82 278.00L65.48 278.00L67.15 278.67L68.15 278.67L68.82 278.33L69.15 278.00M65.48 278.00L67.15 279.00L68.48 279.00L68.82 278.67L69.15 278.00L69.15 277.33M71.15 272.00L71.15 274.00M71.15 273.33L71.48 272.67L72.15 272.00L72.82 272.00L74.48 273.00L75.15 273.00L75.48 272.67L75.82 272.00M71.48 272.67L72.15 272.33L72.82 272.33L74.48 273.00M75.82 272.00L75.82 273.00L75.48 274.00L74.15 275.67L73.82 276.33L73.48 277.33L73.48 279.00M75.48 274.00L73.82 275.67L73.48 276.33L73.15 277.33L73.15 279.00M64.82 333.03L65.15 333.37L64.82 333.70L64.48 333.37L64.48 333.03L64.82 332.37L65.15 332.03L66.15 331.70L67.48 331.70L68.48 332.03L68.82 332.37L69.15 333.03L69.15 333.70L68.82 334.37L67.82 335.03L66.15 335.70L65.48 336.03L64.82 336.70L64.48 337.70L64.48 338.70M67.48 331.70L68.15 332.03L68.48 332.37L68.82 333.03L68.82 333.70L68.48 334.37L67.48 335.03L66.15 335.70M64.48 338.03L64.82 337.70L65.48 337.70L67.15 338.37L68.15 338.37L68.82 338.03L69.15 337.70M65.48 337.70L67.15 338.70L68.48 338.70L68.82 338.37L69.15 337.70L69.15 337.03M72.82 331.70L71.82 332.03L71.48 332.70L71.48 333.70L71.82 334.37L72.82 334.70L74.15 334.70L75.15 334.37L75.48 333.70L75.48 332.70L75.15 332.03L74.15 331.70L72.82 331.70M72.82 331.70L72.15 332.03L71.82 332.70L71.82 333.70L72.15 334.37L72.82 334.70M74.15 334.70L74.82 334.37L75.15 333.70L75.15 332.70L74.82 332.03L74.15 331.70M72.82 334.70L71.82 335.03L71.48 335.37L71.15 336.03L71.15 337.37L71.48 338.03L71.82 338.37L72.82 338.70L74.15 338.70L75.15 338.37L75.48 338.03L75.82 337.37L75.82 336.03L75.48 335.37L75.15 335.03L74.15 334.70M72.82 334.70L72.15 335.03L71.82 335.37L71.48 336.03L71.48 337.37L71.82 338.03L72.15 338.37L72.82 338.70M74.15 338.70L74.82 338.37L75.15 338.03L75.48 337.37L75.48 336.03L75.15 335.37L74.82 335.03L74.15 334.70M356.86 325.53L355.77 329.31L355.50 330.39L355.50 330.93L355.77 331.20L356.58 331.20L357.12 330.66L357.39 330.12M357.12 325.53L356.05 329.31L355.77 330.39L355.77 330.93L356.05 331.20M356.05 325.53L357.12 325.53M355.25 316.50L355.85 315.90L356.45 315.60L357.05 315.60L357.65 315.90L357.95 316.20L358.25 317.10L358.25 318.30L357.95 319.50L357.05 321.90M355.55 316.20L356.15 315.90L357.35 315.90L357.95 316.20M360.35 315.60L360.05 316.50L359.75 317.10L358.25 319.20L357.35 320.70L356.75 321.90M360.05 315.60L359.75 316.50L359.45 317.10L358.25 319.20M363.48 314.48L362.36 318.40M363.76 314.48L362.64 318.40M366.28 314.48L366.56 314.76L366.84 314.76L366.56 314.48L366.00 314.48L365.44 314.76L364.32 315.88L363.76 316.16L363.20 316.16M363.76 316.16L364.32 316.44L364.88 318.12L365.16 318.40M363.76 316.16L364.04 316.44L364.60 318.12L364.88 318.40L365.44 318.40L366.00 318.12L366.56 317.28M206.68 390.50L206.68 397.50M207.02 390.50L207.02 397.50M205.69 390.50L209.02 390.50L210.02 390.83L210.68 391.50L211.02 392.17L211.35 393.17L211.35 394.83L211.02 395.83L210.68 396.50L210.02 397.17L209.02 397.50L205.69 397.50M209.02 390.50L209.68 390.83L210.35 391.50L210.68 392.17L211.02 393.17L211.02 394.83L210.68 395.83L210.35 396.50L209.68 397.17L209.02 397.50M214.02 390.50L214.02 397.50M214.35 390.50L216.35 396.50M214.02 390.50L216.35 397.50M218.68 390.50L216.35 397.50M218.68 390.50L218.68 397.50M219.02 390.50L219.02 397.50M213.02 390.50L214.35 390.50M218.68 390.50L220.01 390.50M213.02 397.50L215.02 397.50M217.68 397.50L220.01 397.50M17.13 220.00L19.47 220.67L20.80 221.00L21.47 221.00L21.80 220.67L21.80 219.67L21.13 219.00L20.47 218.67M17.13 219.67L19.47 220.33L20.80 220.67L21.47 220.67L21.80 220.33M19.47 220.67L18.47 220.67L17.47 221.00L17.13 221.67L17.13 222.33L17.47 223.33L18.47 224.00L19.47 224.33L20.47 224.33L21.13 224.00L21.47 223.67L21.80 223.00L21.80 222.33L21.47 221.67L20.47 221.00L19.47 220.67M17.13 222.33L17.47 223.00L18.47 223.67L19.47 224.00L20.80 224.00L21.47 223.67M4.58 154.25L4.92 153.92L5.25 154.25L4.92 154.58L4.58 154.58L3.92 154.25L3.58 153.92L3.25 152.92L3.25 151.58L3.58 150.58L4.25 150.25L5.25 150.25L5.92 150.58L6.25 151.58L6.25 152.58M3.25 151.58L3.58 150.92L4.25 150.58L5.25 150.58L5.92 150.92L6.25 151.58M6.25 151.58L6.58 150.92L7.25 150.25L7.92 149.92L8.92 149.92L9.58 150.25L9.92 150.58L10.25 151.58L10.25 152.92L9.92 153.92L9.58 154.25L8.92 154.58L8.58 154.58L8.25 154.25L8.58 153.92L8.92 154.25M6.92 150.58L7.92 150.25L8.92 150.25L9.58 150.58L9.92 150.92L10.25 151.58" stroke="#000" stroke-width="1.3" fill="none" stroke-linecap="round" stroke-linejoin="round"/>
</svg></body></html>
